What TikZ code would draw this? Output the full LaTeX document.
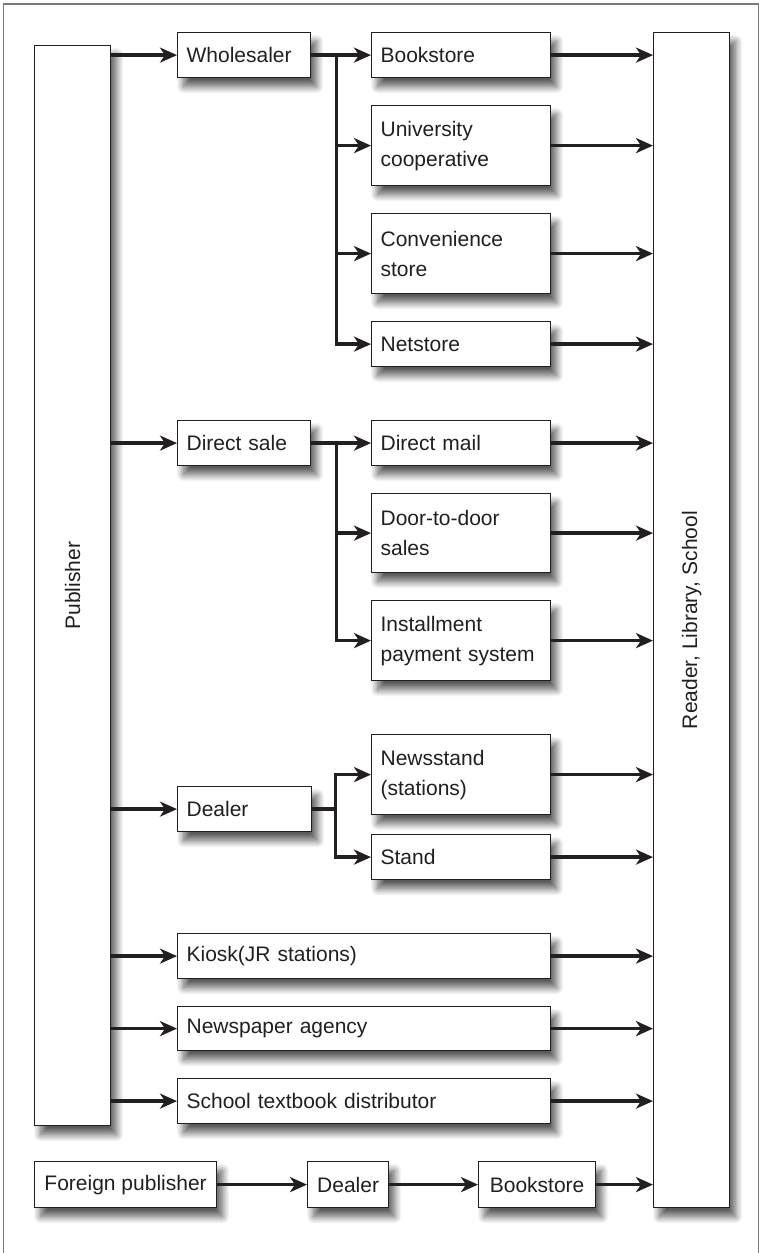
\documentclass[tikz,border=0pt]{standalone}
\usepackage{fontspec}
\setmainfont{Liberation Sans}
\usetikzlibrary{arrows.meta,shadows.blur,calc}
\definecolor{ink}{HTML}{231F20}
\definecolor{framegray}{HTML}{7A7A7A}
\tikzset{
  box/.style={draw=ink, line width=1.2pt, fill=white, anchor=north west,
    inner xsep=9pt, inner ysep=0pt, align=left, text=ink,
    font=\fontsize{21}{30}\selectfont,
    blur shadow={shadow xshift=6pt, shadow yshift=-9pt, shadow blur radius=7pt, shadow blur steps=12, shadow opacity=65}},
  sbox/.style={box, inner xsep=6pt, align=center},
  arr/.style={draw=ink, line width=3.4pt, -{Stealth[length=17pt, width=15pt, inset=5pt]}},
  ln/.style={draw=ink, line width=3.4pt},
  frameline/.style={draw=framegray, line width=1.8pt},
  vlab/.style={rotate=90, text=ink, font=\fontsize{21}{25}\selectfont}
}
\begin{document}
\begin{tikzpicture}[x=1pt, y=-1pt]
\useasboundingbox (0,0) rectangle (761,1253);
\draw[frameline] (3.5,1253) -- (3.5,4) -- (758.5,4) -- (758.5,1253);

% side boxes
\node[box, minimum width=76pt, minimum height=1080pt, label={[vlab]center:Publisher}] (pub) at (34,45) {};
\node[box, minimum width=76pt, minimum height=1175pt, label={[vlab]center:Reader, Library, School}] (rdr) at (653,32) {};

% wholesaler group
\node[box, minimum width=133pt, minimum height=45pt, text width=115pt] (whole) at (177,32) {Wholesaler};
\node[box, minimum width=179pt, minimum height=45pt, text width=161pt] (book) at (371,32) {Bookstore};
\node[box, minimum width=179pt, minimum height=80pt, text width=161pt] (univ) at (371,105) {University\\cooperative};
\node[box, minimum width=179pt, minimum height=80pt, text width=161pt] (conv) at (371,213) {Convenience\\store};
\node[box, minimum width=179pt, minimum height=45pt, text width=161pt] (net) at (371,321) {Netstore};

% direct sale group
\node[box, minimum width=133pt, minimum height=45pt, text width=115pt] (direct) at (177,420) {Direct sale};
\node[box, minimum width=179pt, minimum height=45pt, text width=161pt] (mail) at (371,420) {Direct mail};
\node[box, minimum width=179pt, minimum height=79pt, text width=161pt] (door) at (371,493) {Door-to-door\\sales};
\node[box, minimum width=179pt, minimum height=80pt, text width=161pt] (inst) at (371,600) {Installment\\payment system};

% dealer group
\node[box, minimum width=134pt, minimum height=45pt, text width=116pt] (dealer) at (177,786) {Dealer};
\node[box, minimum width=179pt, minimum height=80pt, text width=161pt] (news) at (371,734) {Newsstand\\(stations)};
\node[box, minimum width=179pt, minimum height=45pt, text width=161pt] (stand) at (371,834) {Stand};

% single rows
\node[box, minimum width=373pt, minimum height=45pt, text width=355pt] (kiosk) at (177,933) {Kiosk(JR stations)};
\node[box, minimum width=373pt, minimum height=44pt, text width=355pt] (paper) at (177,1006) {Newspaper agency};
\node[box, minimum width=373pt, minimum height=45pt, text width=355pt] (school) at (177,1078) {School textbook distributor};

% bottom row
\node[sbox, minimum width=182pt, minimum height=46pt] (foreign) at (34,1161) {Foreign publisher};
\node[sbox, minimum width=81pt, minimum height=46pt] (dealer2) at (307,1161) {Dealer};
\node[sbox, minimum width=117pt, minimum height=46pt] (book2) at (478,1161) {Bookstore};

% publisher to first level
\foreach \n in {whole,direct,dealer,kiosk,paper,school}
  \draw[arr] (pub.east |- \n.west) -- (\n.west);

% junctions
\coordinate (j1) at ($(whole.east)+(25,0)$);
\coordinate (j2) at ($(direct.east)+(25,0)$);
\coordinate (j3) at ($(dealer.east)+(23,0)$);

\draw[arr] (whole.east) -- (book.west);
\foreach \n in {univ,conv,net}
  \draw[arr] (j1) |- (\n.west);

\draw[arr] (direct.east) -- (mail.west);
\foreach \n in {door,inst}
  \draw[arr] (j2) |- (\n.west);

\draw[ln] (dealer.east) -- (j3);
\foreach \n in {news,stand}
  \draw[arr] (j3) |- (\n.west);

% to reader
\foreach \n in {book,univ,conv,net,mail,door,inst,news,stand,kiosk,paper,school,book2}
  \draw[arr] (\n.east) -- (rdr.west |- \n.east);

% bottom chain
\draw[arr] (foreign.east) -- (dealer2.west);
\draw[arr] (dealer2.east) -- (book2.west);
\end{tikzpicture}
\end{document}
